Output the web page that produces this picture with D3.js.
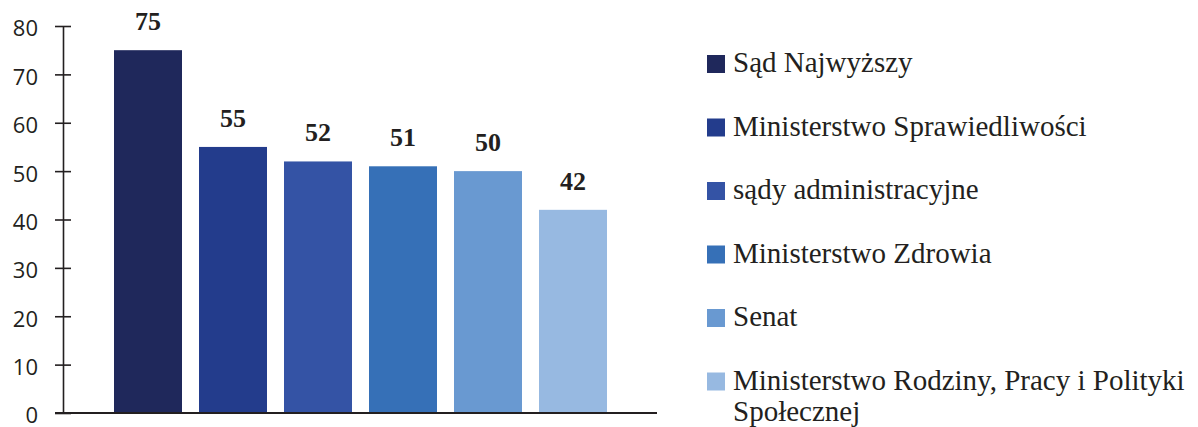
<!DOCTYPE html>
<html>
<head>
<meta charset="utf-8">
<script src="https://cdn.jsdelivr.net/npm/d3@7"></script>
<style>
  body { margin: 0; background: #fff; }
  svg { display: block; }
</style>
</head>
<body>
<div id="chart"></div>
<script>
// dane
var categories = ["Sąd Najwyższy", "Ministerstwo Sprawiedliwości", "sądy administracyjne",
                  "Ministerstwo Zdrowia", "Senat", "Ministerstwo Rodziny, Pracy i Polityki Społecznej"];
var values = [75, 55, 52, 51, 50, 42];
var colors = ["#1f285b", "#233c8c", "#3453a5", "#3670b7", "#6999d1", "#97b9e1"];
var yTicks = [0, 10, 20, 30, 40, 50, 60, 70, 80];

var width = 1198, height = 427;

var svg = d3.select("#chart").append("svg")
  .attr("width", width)
  .attr("height", height);

var y = d3.scaleLinear()
  .domain([0, 80])
  .range([413, 26]);

// 6 slupkow, krok 85px, szerokosc 68px
var x = d3.scaleBand()
  .domain(categories)
  .range([71.5, 649.5])
  .paddingInner(0.2)
  .paddingOuter(0.5);

// os Y z kreskami po obu stronach
var yAxis = d3.axisLeft(y)
  .tickValues(yTicks)
  .tickSizeInner(8)
  .tickSizeOuter(0)
  .tickPadding(0);

var gy = svg.append("g")
  .attr("transform", "translate(63,0)")
  .call(yAxis);

gy.select(".domain").attr("stroke", "#231f20").attr("stroke-width", 1.6);
gy.selectAll(".tick line")
  .attr("x1", -8).attr("x2", 8)
  .attr("stroke", "#231f20").attr("stroke-width", 1.6);
gy.selectAll(".tick text")
  .attr("x", -25)
  .attr("dy", "0.45em")
  .style("font-family", "'Open Sans', sans-serif")
  .style("font-size", "22px")
  .style("fill", "#231f20");

// slupki
svg.selectAll("rect.bar")
  .data(values)
  .enter()
  .append("rect")
  .attr("class", "bar")
  .attr("x", function(d, i) { return x(categories[i]); })
  .attr("y", function(d) { return y(d); })
  .attr("width", x.bandwidth())
  .attr("height", function(d) { return y(0) - y(d); })
  .style("fill", function(d, i) { return colors[i]; });

// linia bazowa
svg.append("line")
  .attr("x1", 55).attr("x2", 657)
  .attr("y1", y(0)).attr("y2", y(0))
  .attr("stroke", "#231f20")
  .attr("stroke-width", 2.2);

// etykiety wartosci
svg.selectAll("text.val")
  .data(values)
  .enter()
  .append("text")
  .attr("class", "val")
  .attr("x", function(d, i) { return x(categories[i]) + x.bandwidth() / 2; })
  .attr("y", function(d) { return y(d) - 20; })
  .attr("text-anchor", "middle")
  .style("font-family", "'Liberation Serif', 'Times New Roman', serif")
  .style("font-weight", "bold")
  .style("font-size", "26px")
  .style("fill", "#231f20")
  .text(function(d) { return d; });

// legenda
var legendY = d3.scalePoint()
  .domain(categories)
  .range([64, 381.5]);

var legend = svg.selectAll("g.legend")
  .data(categories)
  .enter()
  .append("g")
  .attr("class", "legend")
  .attr("transform", function(d) { return "translate(707," + legendY(d) + ")"; });

legend.append("rect")
  .attr("x", 0)
  .attr("y", -9)
  .attr("width", 18)
  .attr("height", 18)
  .style("fill", function(d, i) { return colors[i]; });

legend.append("text")
  .attr("x", 26)
  .attr("y", 8)
  .style("font-family", "'Liberation Serif', 'Times New Roman', serif")
  .style("font-size", "29px")
  .style("fill", "#231f20")
  .each(function(d) {
    // zawijanie dlugich nazw
    var el = d3.select(this);
    var words = d.split(" ");
    var maxW = width - 707 - 26 - 4;
    var line = [];
    var tspan = el.append("tspan").attr("x", 26).attr("dy", 0);
    words.forEach(function(w) {
      line.push(w);
      tspan.text(line.join(" "));
      if (tspan.node().getComputedTextLength() > maxW && line.length > 1) {
        line.pop();
        tspan.text(line.join(" "));
        line = [w];
        tspan = el.append("tspan").attr("x", 26).attr("dy", 31).text(w);
      }
    });
  });
</script>
</body>
</html>
